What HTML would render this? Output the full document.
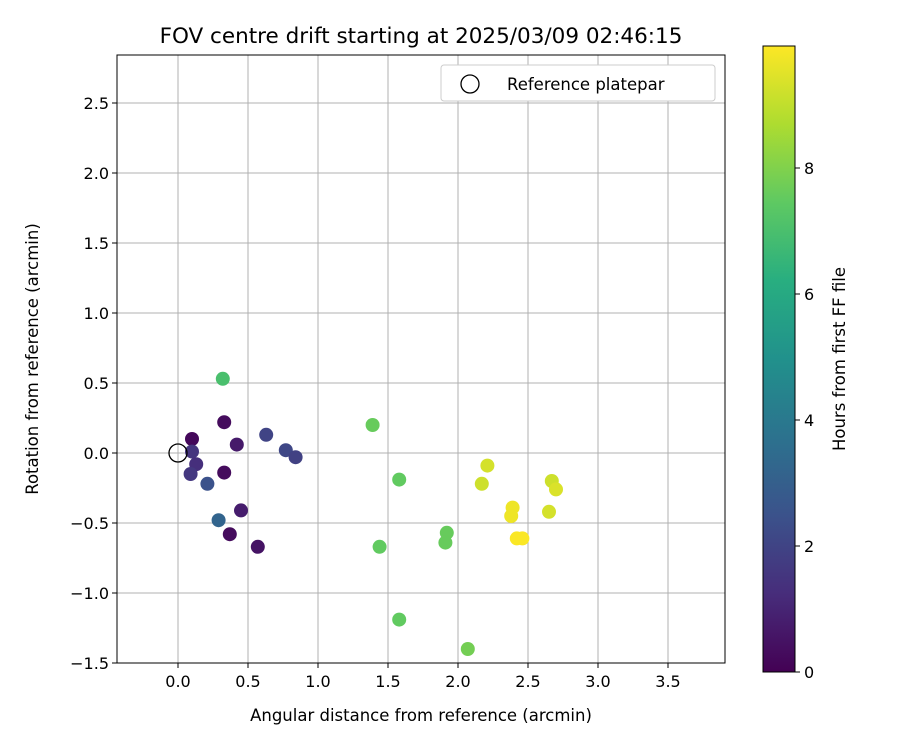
<!DOCTYPE html>
<html><head><meta charset="utf-8"><style>
body{margin:0;background:#fff;font-family:"Liberation Sans","DejaVu Sans",sans-serif}
svg text{font-family:"DejaVu Sans","Liberation Sans",sans-serif;fill:#000}
</style></head><body>
<svg id="chart" width="900" height="750" xmlns="http://www.w3.org/2000/svg">
<defs><linearGradient id="vir" x1="0" y1="1" x2="0" y2="0">
<stop offset="0" stop-color="#440154"/><stop offset="0.125" stop-color="#472d7b"/><stop offset="0.25" stop-color="#3b528b"/><stop offset="0.375" stop-color="#2c728e"/><stop offset="0.5" stop-color="#21918c"/><stop offset="0.625" stop-color="#28ae80"/><stop offset="0.75" stop-color="#5ec962"/><stop offset="0.875" stop-color="#addc30"/><stop offset="1" stop-color="#fde725"/></linearGradient></defs>
<text x="421" y="43" font-size="21.5" text-anchor="middle">FOV centre drift starting at 2025/03/09 02:46:15</text>
<g id="grid"></g><g id="ticks"></g><g id="pts"></g>
<rect x="117" y="55" width="608" height="608" fill="none" stroke="#000" stroke-width="1"/>
<text x="421" y="721" font-size="16.5" text-anchor="middle">Angular distance from reference (arcmin)</text>
<text transform="translate(38,359) rotate(-90)" font-size="16.5" text-anchor="middle">Rotation from reference (arcmin)</text>
<g>
<rect x="441" y="65" width="274" height="36" rx="3" fill="#fff" stroke="#ccc"/>
<circle cx="470" cy="84" r="9" fill="none" stroke="#000" stroke-width="1.3"/>
<text x="507" y="90" font-size="16.5">Reference platepar</text></g>
<rect x="763" y="46" width="32" height="626" fill="url(#vir)" stroke="#000"/>
<g id="cticks"></g>
<text transform="translate(845,359) rotate(-90)" font-size="16.5" text-anchor="middle">Hours from first FF file</text>
</svg>
<script>
const xVals=[0.10,0.33,0.33,0.37,0.57,0.45,0.42,0.10,0.13,0.09,0.21,0.29,0.63,0.77,0.84,0.32,1.39,1.58,1.44,1.92,1.91,1.58,2.07,2.17,2.21,2.39,2.38,2.42,2.46,2.67,2.70,2.65];
const yVals=[0.10,0.22,-0.14,-0.58,-0.67,-0.41,0.06,0.01,-0.08,-0.15,-0.22,-0.48,0.13,0.02,-0.03,0.53,0.20,-0.19,-0.67,-0.57,-0.64,-1.19,-1.40,-0.22,-0.09,-0.39,-0.45,-0.61,-0.61,-0.20,-0.26,-0.42];
const hours=[0.2,0.3,0.3,0.3,0.5,0.8,0.7,1.5,1.3,1.6,2.5,3.2,2.0,2.1,1.9,7.0,7.6,7.5,7.5,7.6,7.6,7.5,7.8,9.2,9.3,9.7,9.7,9.9,9.9,9.2,9.4,9.3];
const xTicks=[0,0.5,1,1.5,2,2.5,3,3.5];
const yTicks=[-1.5,-1,-0.5,0,0.5,1,1.5,2,2.5];
const cTicks=[0,2,4,6,8];
const X=v=>178+v*140, Y=v=>453-v*140, C=h=>672-h*63;
const hMax=9.94;
const vir=["#440154","#472d7b","#3b528b","#2c728e","#21918c","#28ae80","#5ec962","#addc30","#fde725"];
function col(h){let t=Math.min(1,Math.max(0,h/hMax))*8,i=Math.min(7,Math.floor(t)),f=t-i;
const a=vir[i],b=vir[i+1],p=(s,k)=>parseInt(s.substr(k,2),16);
let r=[1,3,5].map(k=>Math.round(p(a,k)+(p(b,k)-p(a,k))*f));return `rgb(${r})`;}
const NS="http://www.w3.org/2000/svg";
function mk(g,tag,at){const e=document.createElementNS(NS,tag);for(const k in at)e.setAttribute(k,at[k]);document.getElementById(g).appendChild(e);return e;}
const fmt=v=>v<0?"\u2212"+(-v).toFixed(1):v.toFixed(1);
xTicks.forEach(v=>{const x=X(v);
let l=mk("grid","line",{x1:x,x2:x,y1:55,y2:663,stroke:"#b0b0b0","stroke-width":1});


mk("ticks","line",{x1:x,x2:x,y1:663,y2:668,stroke:"#000"});
let t=mk("ticks","text",{x:x,y:687,"font-size":16,"text-anchor":"middle"});t.textContent=fmt(v);

});
yTicks.forEach(v=>{const y=Y(v);
let l=mk("grid","line",{x1:117,x2:725,y1:y,y2:y,stroke:"#b0b0b0","stroke-width":1});


mk("ticks","line",{x1:112,x2:117,y1:y,y2:y,stroke:"#000"});
let t=mk("ticks","text",{x:109,y:y+6,"font-size":16,"text-anchor":"end"});t.textContent=fmt(v);

});
cTicks.forEach(v=>{const y=C(v);
mk("cticks","line",{x1:795,x2:800,y1:y,y2:y,stroke:"#000"});
let t=mk("cticks","text",{x:804,y:y+6,"font-size":16});t.textContent=v;

});
xVals.forEach((v,i)=>{let c=mk("pts","circle",{cx:X(v),cy:Y(yVals[i]),r:7,fill:col(hours[i])});

});
let r=mk("pts","circle",{cx:X(0),cy:Y(0),r:9,fill:"none",stroke:"#000","stroke-width":1.3});


</script>
</body></html>
